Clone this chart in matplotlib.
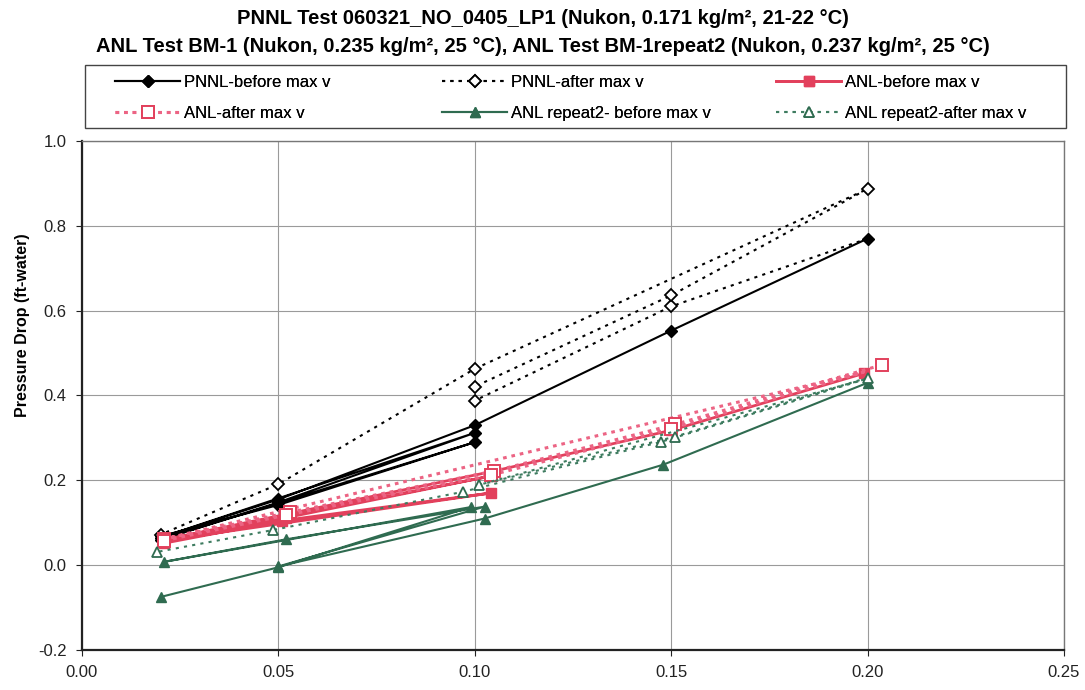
import matplotlib
matplotlib.use("Agg")
import matplotlib.pyplot as plt
from matplotlib.patches import Rectangle

plt.rcParams['font.family'] = ['Liberation Sans', 'DejaVu Sans']

# velocity (ft/s) and pressure drop (ft-water), in the order the runs were taken
pnnl_before_v = [0.020, 0.050, 0.100, 0.020, 0.050, 0.100, 0.020, 0.050, 0.100, 0.150, 0.200]
pnnl_before_dp = [0.068, 0.142, 0.290, 0.060, 0.148, 0.312, 0.065, 0.155, 0.330, 0.553, 0.770]

pnnl_after_v = [0.200, 0.150, 0.100, 0.100, 0.150, 0.200, 0.100, 0.050, 0.020]
pnnl_after_dp = [0.770, 0.610, 0.388, 0.421, 0.636, 0.887, 0.463, 0.191, 0.072]

anl_before_v = [0.021, 0.051, 0.104, 0.021, 0.052, 0.104, 0.021, 0.052, 0.105, 0.150, 0.199]
anl_before_dp = [0.052, 0.105, 0.170, 0.058, 0.112, 0.210, 0.060, 0.120, 0.222, 0.318, 0.452]

anl_after_v = [0.2036, 0.151, 0.105, 0.053, 0.021, 0.199, 0.150, 0.104, 0.052, 0.021]
anl_after_dp = [0.472, 0.332, 0.222, 0.125, 0.062, 0.455, 0.322, 0.212, 0.118, 0.058]

rep2_before_v = [0.020, 0.050, 0.099, 0.021, 0.052, 0.1025, 0.050, 0.1025, 0.148, 0.200]
rep2_before_dp = [-0.075, -0.005, 0.137, 0.008, 0.061, 0.138, -0.003, 0.110, 0.237, 0.430]

rep2_after_v = [0.200, 0.151, 0.101, 0.200, 0.1475, 0.097, 0.0487, 0.019]
rep2_after_dp = [0.442, 0.303, 0.189, 0.440, 0.291, 0.173, 0.083, 0.031]

labels = ['PNNL-before max v', 'PNNL-after max v', 'ANL-before max v',
          'ANL-after max v', 'ANL repeat2- before max v', 'ANL repeat2-after max v']

RED = '#E2405C'
PINK = '#EC6484'
GREEN = '#2F6B50'
GREEN2 = '#3E7C60'

W, H = 1085, 690
fig = plt.figure(figsize=(W / 100, H / 100), dpi=100)
ax = fig.add_axes([82 / W, 1 - 650 / H, 982 / W, 509 / H])

dots = (0, (1.5, 2.5))

h1, = ax.plot(pnnl_before_v, pnnl_before_dp, color='black', lw=1.5, marker='D',
              ms=6, mfc='black', mec='black')
h2, = ax.plot(pnnl_after_v, pnnl_after_dp, color='black', lw=1.5, ls=dots, marker='D',
              ms=6, mfc='white', mec='black', mew=1.3, markevery=list(range(1, 9)))
h3, = ax.plot(anl_before_v, anl_before_dp, color=RED, lw=2.0, marker='s',
              ms=7, mfc=RED, mec=RED)
h4, = ax.plot(anl_after_v, anl_after_dp, color=PINK, lw=2.2, ls=(0, (1.2, 1.6)), marker='s',
              ms=8, mfc='white', mec=RED, mew=1.4, markevery=[0, 1, 2, 3, 4, 6, 7, 8, 9])
h5, = ax.plot(rep2_before_v, rep2_before_dp, color=GREEN, lw=1.5, marker='^',
              ms=7, mfc=GREEN, mec=GREEN)
h6, = ax.plot(rep2_after_v, rep2_after_dp, color=GREEN2, lw=1.5, ls=dots, marker='^',
              ms=7, mfc='white', mec=GREEN, mew=1.3, markevery=[0, 1, 2, 4, 5, 6, 7])

ax.set_xlim(0, 0.25)
ax.set_ylim(-0.2, 1.0)
ax.set_xticks([0.00, 0.05, 0.10, 0.15, 0.20, 0.25])
ax.set_yticks([-0.2, 0.0, 0.2, 0.4, 0.6, 0.8, 1.0])
ax.xaxis.set_major_formatter(matplotlib.ticker.FormatStrFormatter('%.2f'))
ax.yaxis.set_major_formatter(matplotlib.ticker.FormatStrFormatter('%.1f'))
ax.tick_params(labelsize=12, length=4, width=0.8, direction='out', pad=7, colors='#222222')
ax.grid(True, color='#9a9a9a', lw=0.8)
ax.set_axisbelow(True)

for s in ['left', 'bottom']:
    ax.spines[s].set_color('#222222')
    ax.spines[s].set_linewidth(1.6)
for s in ['top', 'right']:
    ax.spines[s].set_color('#777777')
    ax.spines[s].set_linewidth(1.0)

ax.set_ylabel('Pressure Drop (ft-water)', fontsize=11.5, fontweight='bold')
ax.yaxis.set_label_coords(-0.053, 0.638)

fig.text(0.5, 1 - 19 / H, 'PNNL Test 060321_NO_0405_LP1 (Nukon, 0.171 kg/m\u00b2, 21-22 \u00b0C)',
         ha='center', va='center', fontsize=14.5, fontweight='bold')
fig.text(0.5, 1 - 46 / H,
         'ANL Test BM-1 (Nukon, 0.235 kg/m\u00b2, 25 \u00b0C), ANL Test BM-1repeat2 (Nukon, 0.237 kg/m\u00b2, 25 \u00b0C)',
         ha='center', va='center', fontsize=14.5, fontweight='bold')

# Excel style legend: three equal columns inside one frame
columns = [([h1, h4], [labels[0], labels[3]], 115),
           ([h2, h5], [labels[1], labels[4]], 442),
           ([h3, h6], [labels[2], labels[5]], 776)]
for hs, ls, x0 in columns:
    lg = fig.legend(hs, ls, loc='upper left', bbox_to_anchor=(x0 / W, 1 - 75 / H),
                    fontsize=12, frameon=False, handlelength=3.9, handletextpad=0.25,
                    borderpad=0, labelspacing=0.95, borderaxespad=0)
    fig.add_artist(lg)

fig.patches.append(Rectangle((85 / W, 1 - 128 / H), (1066 - 85) / W, 63 / H,
                             transform=fig.transFigure, fill=False,
                             ec='#444444', lw=1.0))

fig.savefig('out.png', dpi=100, facecolor='white')
